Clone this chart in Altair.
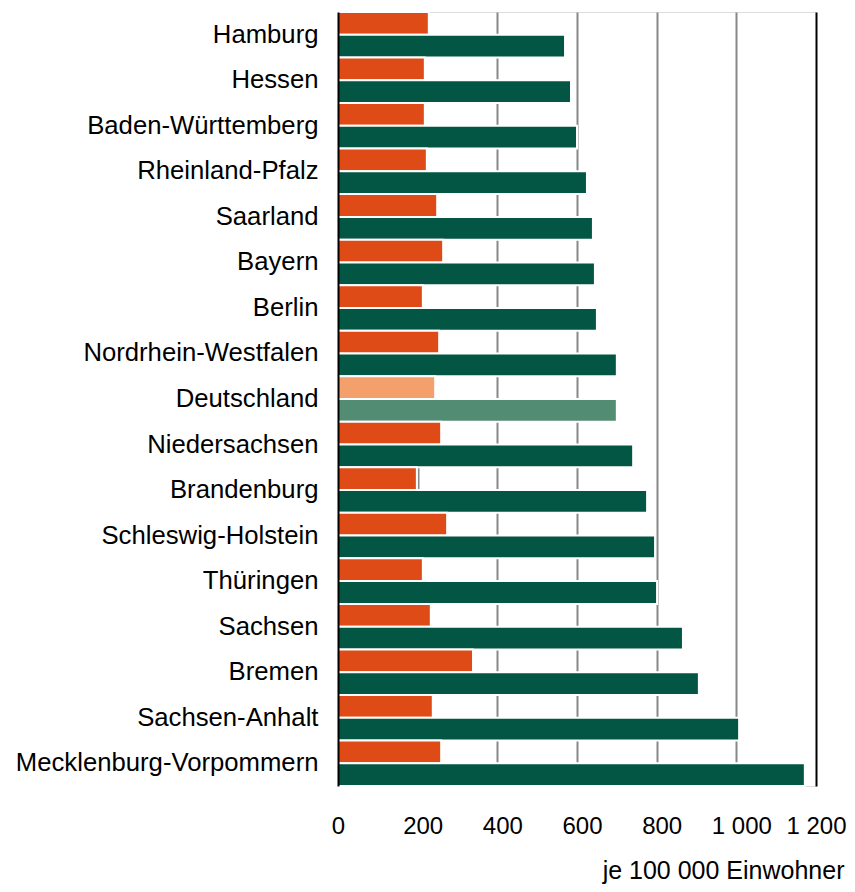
import altair as alt
import pandas as pd

states = [
    "Hamburg", "Hessen", "Baden-Württemberg", "Rheinland-Pfalz", "Saarland",
    "Bayern", "Berlin", "Nordrhein-Westfalen", "Deutschland", "Niedersachsen",
    "Brandenburg", "Schleswig-Holstein", "Thüringen", "Sachsen", "Bremen",
    "Sachsen-Anhalt", "Mecklenburg-Vorpommern",
]
series_a = [228, 218, 218, 223, 249, 264, 213, 254, 244, 259, 198, 274, 213, 233, 339, 238, 259]
series_b = [570, 585, 600, 625, 640, 645, 650, 700, 700, 741, 776, 796, 801, 866, 906, 1007, 1172]
ticks = [0, 200, 400, 600, 800, 1000, 1200]

ORANGE = "#DF4B16"
GREEN = "#025643"
ORANGE_LIGHT = "#F3A06C"
GREEN_LIGHT = "#528C73"

rows = []
for s, a, b in zip(states, series_a, series_b):
    suffix = "_de" if s == "Deutschland" else ""
    rows.append({"Land": s, "Reihe": "a", "Wert": a, "key": "a" + suffix})
    rows.append({"Land": s, "Reihe": "b", "Wert": b, "key": "b" + suffix})
df = pd.DataFrame(rows)

FONT = "Liberation Sans"

chart = alt.Chart(df).mark_bar(stroke="white", strokeWidth=2).encode(
    y=alt.Y(
        "Land:N",
        sort=states,
        scale=alt.Scale(domain=states, paddingInner=0, paddingOuter=0),
        axis=alt.Axis(
            title=None, ticks=False, domain=True, domainColor="black",
            domainWidth=2, zindex=1, labelPadding=20,
            labelFontSize=25.7, labelFont=FONT, labelColor="black", labelLimit=400,
        ),
    ),
    yOffset=alt.YOffset(
        "Reihe:N",
        scale=alt.Scale(domain=["a", "b"], paddingInner=0, paddingOuter=0),
    ),
    x=alt.X(
        "Wert:Q",
        scale=alt.Scale(domain=[0, 1200], nice=False),
        axis=alt.Axis(
            values=ticks,
            labelExpr="replace(format(datum.value, ','), ',', ' ')",
            title="je 100 000 Einwohner",
            titleFont=FONT, titleFontSize=25, titleFontWeight="normal",
            titleColor="black", titleAlign="right", titleAnchor="end",
            titleBaseline="alphabetic", titleX=506, titleY=92,
            labelFont=FONT, labelFontSize=24, labelColor="black",
            labelPadding=28, ticks=False, domain=False,
            labelFlush=False,
            labelOffset=alt.condition(
                "datum.value == 0 || datum.value == 1200", alt.value(0), alt.value(5)
            ),
            grid=True, gridWidth=2,
            gridColor=alt.condition(
                "datum.value == 1200",
                alt.value("black"), alt.value("#888888"),
            ),
            labelOverlap=False,
        ),
    ),
    color=alt.Color(
        "key:N",
        scale=alt.Scale(
            domain=["a", "b", "a_de", "b_de"],
            range=[ORANGE, GREEN, ORANGE_LIGHT, GREEN_LIGHT],
        ),
        legend=None,
    ),
).properties(
    width=478,
    height=774,
    autosize=alt.AutoSizeParams(type="none"),
    padding={"left": 330, "top": 4, "right": 31, "bottom": 98},
).configure_view(stroke=None).configure(background="white")

chart.save("out.html", embed_options={"renderer": "svg", "actions": False})
